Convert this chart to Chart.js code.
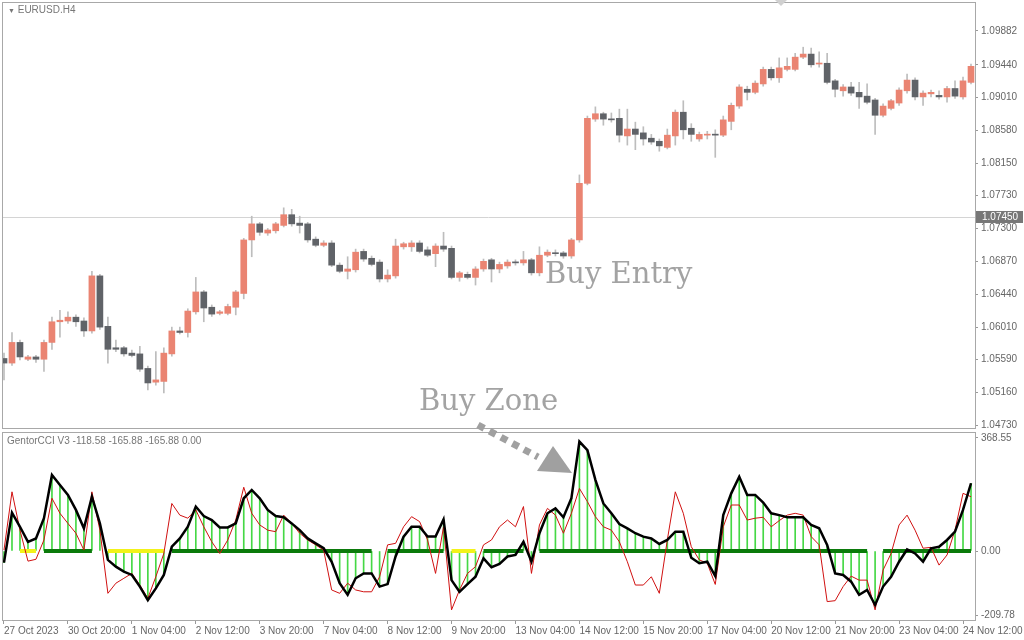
<!DOCTYPE html>
<html>
<head>
<meta charset="utf-8">
<script src="https://cdn.jsdelivr.net/npm/chart.js@4.4.0/dist/chart.umd.min.js"></script>
<style>
  body { margin: 0; background: #fff; width: 1024px; height: 640px; overflow: hidden; position: relative; font-family: "Liberation Sans", sans-serif; }
  canvas { position: absolute; left: 0; }
  #price { top: 0; }
  #cci { top: 430px; }
  .note { position: absolute; font-family: "DejaVu Serif", serif; color: #a3a3a3; font-size: 29px; white-space: nowrap; }
  .small { position: absolute; font-size: 10px; color: #777; white-space: nowrap; }
  svg { position: absolute; left: 0; top: 0; pointer-events: none; }
</style>
</head>
<body>
<canvas id="price" width="1024" height="430"></canvas>
<canvas id="cci" width="1024" height="210"></canvas>
<div class="small" style="left:8px;top:4px;"><span style="font-size:7px;">&#9660;</span> EURUSD.H4</div>
<div class="small" style="left:7px;top:435px;">GentorCCI V3 -118.58 -165.88 -165.88 0.00</div>
<div class="note" style="left:545px;top:256px;">Buy Entry</div>
<div class="note" style="left:419px;top:383px;">Buy Zone</div>
<svg width="1024" height="640">
  <polygon points="775,0 787,0 781,6" fill="#d0d0d0"/>
  <line x1="478" y1="425" x2="538" y2="457" stroke="#a0a0a0" stroke-width="7" stroke-dasharray="7 6"/>
  <polygon points="553,446 572,473 537,471" fill="#a0a0a0"/>
</svg>
<script>
// EURUSD H4 candles, 27 Oct - 24 Nov 2023
const open = [1.0560,1.0554,1.0581,1.0559,1.0562,1.0559,1.0581,1.0608,1.0609,1.0614,
  1.0609,1.0596,1.0668,1.0602,1.0574,1.0574,1.0567,1.0566,1.0547,1.0529,
  1.0530,1.0566,1.0596,1.0594,1.0621,1.0647,1.0627,1.0619,1.0619,1.0627,
  1.0645,1.0715,1.0736,1.0724,1.0727,1.0734,1.0748,1.0737,1.0736,1.0716,
  1.0708,1.0711,1.0682,1.0674,1.0676,1.0700,1.0691,1.0686,1.0664,1.0668,
  1.0706,1.0706,1.0711,1.0702,1.0697,1.0707,1.0704,1.0666,1.0670,1.0666,
  1.0677,1.0689,1.0677,1.0681,1.0686,1.0685,1.0689,1.0672,1.0695,1.0698,
  1.0698,1.0694,1.0715,1.0789,1.0873,1.0880,1.0873,1.0874,1.0851,1.0860,
  1.0855,1.0848,1.0844,1.0836,1.0851,1.0882,1.0861,1.0847,1.0852,1.0853,
  1.0852,1.0870,1.0890,1.0912,1.0908,1.0919,1.0938,1.0927,1.0938,1.0938,
  1.0954,1.0958,1.0945,1.0946,1.0923,1.0910,1.0915,1.0908,1.0903,1.0898,
  1.0878,1.0887,1.0894,1.0910,1.0924,1.0902,1.0906,1.0904,1.0902,1.0913,
  1.0902,1.0921];
const high = [1.0567,1.0594,1.0584,1.0564,1.0564,1.0584,1.0614,1.0623,1.0621,1.0617,
  1.0613,1.0674,1.0670,1.0614,1.0584,1.0576,1.0571,1.0576,1.0550,1.0569,
  1.0574,1.0601,1.0601,1.0625,1.0666,1.0649,1.0630,1.0623,1.0631,1.0649,
  1.0717,1.0746,1.0738,1.0730,1.0738,1.0757,1.0755,1.0746,1.0738,1.0719,
  1.0714,1.0714,1.0685,1.0693,1.0703,1.0703,1.0694,1.0689,1.0676,1.0716,
  1.0712,1.0714,1.0714,1.0706,1.0710,1.0725,1.0707,1.0674,1.0673,1.0680,
  1.0690,1.0691,1.0686,1.0689,1.0689,1.0700,1.0691,1.0706,1.0702,1.0702,
  1.0700,1.0717,1.0800,1.0877,1.0889,1.0882,1.0881,1.0886,1.0886,1.0869,
  1.0863,1.0853,1.0847,1.0860,1.0885,1.0897,1.0867,1.0856,1.0857,1.0859,
  1.0877,1.0894,1.0918,1.0916,1.0923,1.0941,1.0941,1.0953,1.0953,1.0959,
  1.0967,1.0966,1.0961,1.0959,1.0925,1.0918,1.0921,1.0921,1.0919,1.0900,
  1.0893,1.0899,1.0914,1.0932,1.0927,1.0910,1.0911,1.0910,1.0916,1.0923,
  1.0928,1.0945];
const low = [1.0532,1.0551,1.0558,1.0557,1.0555,1.0543,1.0572,1.0588,1.0606,1.0602,
  1.0589,1.0593,1.0598,1.0554,1.0569,1.0563,1.0562,1.0543,1.0519,1.0525,
  1.0515,1.0563,1.0592,1.0588,1.0618,1.0608,1.0615,1.0617,1.0617,1.0617,
  1.0638,1.0693,1.0721,1.0721,1.0724,1.0732,1.0733,1.0724,1.0712,1.0706,
  1.0706,1.0680,1.0672,1.0664,1.0673,1.0687,1.0681,1.0660,1.0660,1.0665,
  1.0703,1.0700,1.0698,1.0693,1.0680,1.0700,1.0664,1.0661,1.0664,1.0656,
  1.0674,1.0660,1.0672,1.0678,1.0682,1.0682,1.0669,1.0668,1.0693,1.0694,
  1.0691,1.0691,1.0712,1.0787,1.0870,1.0865,1.0869,1.0843,1.0839,1.0833,
  1.0839,1.0840,1.0831,1.0834,1.0839,1.0847,1.0844,1.0844,1.0847,1.0823,
  1.0850,1.0859,1.0887,1.0898,1.0906,1.0916,1.0924,1.0921,1.0936,1.0936,
  1.0952,1.0941,1.0941,1.0919,1.0902,1.0903,1.0904,1.0887,1.0893,1.0853,
  1.0876,1.0885,1.0891,1.0907,1.0898,1.0891,1.0902,1.0899,1.0895,1.0900,
  1.0899,1.0919];
const close = [1.0554,1.0581,1.0562,1.0562,1.0559,1.0581,1.0608,1.0610,1.0614,1.0608,
  1.0596,1.0668,1.0601,1.0572,1.0572,1.0566,1.0564,1.0546,1.0528,1.0532,
  1.0567,1.0596,1.0594,1.0622,1.0647,1.0626,1.0618,1.0621,1.0628,1.0647,
  1.0715,1.0736,1.0725,1.0728,1.0736,1.0748,1.0736,1.0734,1.0715,1.0708,
  1.0711,1.0682,1.0674,1.0677,1.0699,1.0690,1.0683,1.0664,1.0669,1.0707,
  1.0710,1.0711,1.0700,1.0695,1.0707,1.0703,1.0666,1.0672,1.0666,1.0677,
  1.0687,1.0677,1.0683,1.0686,1.0685,1.0689,1.0672,1.0695,1.0699,1.0697,
  1.0694,1.0715,1.0789,1.0874,1.0880,1.0873,1.0872,1.0852,1.0860,1.0853,
  1.0847,1.0843,1.0838,1.0852,1.0882,1.0859,1.0853,1.0853,1.0853,1.0852,
  1.0872,1.0891,1.0915,1.0908,1.0920,1.0938,1.0927,1.0940,1.0942,1.0954,
  1.0958,1.0944,1.0946,1.0921,1.0912,1.0915,1.0907,1.0902,1.0895,1.0878,
  1.0890,1.0897,1.0911,1.0924,1.0902,1.0907,1.0908,1.0902,1.0913,1.0903,
  1.0923,1.0942];

// GentorCCI: slow (black line + histogram) and fast (red line)
const cciSlow = [-38,125,79,30,41,107,248,215,183,134,
  74,177,90,-29,-51,-67,-78,-116,-160,-122,
  -78,14,41,79,145,114,101,77,77,90,
  172,199,172,134,114,110,90,68,41,25,
  9,-35,-105,-143,-89,-73,-73,-116,-108,-18,
  47,79,79,47,47,103,-95,-133,-108,-84,
  -24,-53,-42,-18,-13,30,-35,58,123,139,
  110,172,357,329,232,155,123,88,74,58,
  47,41,23,36,63,63,-22,-40,-35,-82,
  117,188,242,183,183,158,123,117,110,110,
  110,85,74,20,-73,-78,-100,-143,-127,-176,
  -116,-84,-35,5,-8,-35,9,14,36,63,
  134,221];
const cciFast = [3,193,68,-33,-27,36,172,123,90,58,
  3,193,68,-138,-105,-89,-73,-111,-154,-84,
  -8,155,117,107,134,79,30,-8,36,101,
  208,123,85,68,63,117,90,58,36,20,
  3,-127,-138,-105,-127,-133,-133,-84,20,25,
  79,112,96,36,-73,79,-192,-127,-73,-51,
  20,36,79,101,79,145,-73,85,139,117,
  58,123,204,161,112,79,68,30,-35,-111,
  -111,-84,-138,36,193,123,14,-29,-40,-109,
  79,150,150,101,107,110,79,99,117,123,
  117,47,20,-165,-162,-116,-82,-95,-95,-192,
  -62,-8,85,117,68,9,12,-46,-13,68,
  188,177];
// zero-line state runs: g = green, y = yellow, - = none
const zoneRuns = [['-',2],['y',3],['g',7],['-',1],['y',8],['g',26],['-',1],['g',8],['y',4],['g',6],['-',1],['g',42],['-',1],['g',12]];

const timeLabels = ['27 Oct 2023','30 Oct 20:00','1 Nov 04:00','2 Nov 12:00','3 Nov 20:00','7 Nov 04:00',
  '8 Nov 12:00','9 Nov 20:00','13 Nov 04:00','14 Nov 12:00','15 Nov 20:00','17 Nov 04:00',
  '20 Nov 12:00','21 Nov 20:00','23 Nov 04:00','24 Nov 12:00'];
const priceTicks = [1.09882,1.09440,1.09010,1.08580,1.08150,1.07730,1.07300,1.06870,1.06440,1.06010,1.05590,1.05160,1.04730];
const cciTicks = [368.55, 0, -209.78];
const lastPrice = 1.07450;

const zone = zoneRuns.flatMap(([z, n]) => Array(n).fill(z));
const idx = open.map((_, i) => i);
const BULL = '#ea8472', BEAR = '#606368';
const tickFont = { family: 'Liberation Sans', size: 10 };

const noPad = s => { s.paddingTop = 0; s.paddingBottom = 0; s.paddingLeft = 0; s.paddingRight = 0; };

const frame = {
  id: 'frame',
  afterDraw(chart) {
    const { ctx, chartArea: a } = chart;
    ctx.save();
    ctx.strokeStyle = '#a8a8a8';
    ctx.lineWidth = 1;
    ctx.strokeRect(a.left + 0.5, a.top + 0.5, a.right - a.left, a.bottom - a.top);
    ctx.restore();
  }
};

const priceLine = {
  id: 'priceLine',
  beforeDatasetsDraw(chart) {
    const { ctx, chartArea: a, scales: { y } } = chart;
    const py = Math.round(y.getPixelForValue(lastPrice)) + 0.5;
    ctx.save();
    ctx.strokeStyle = '#d4d4d4';
    ctx.beginPath(); ctx.moveTo(a.left, py); ctx.lineTo(a.right, py); ctx.stroke();
    ctx.restore();
  },
  afterDraw(chart) {
    const { ctx, chartArea: a, scales: { y } } = chart;
    const py = y.getPixelForValue(lastPrice);
    ctx.save();
    ctx.fillStyle = '#777';
    ctx.fillRect(a.right + 1, py - 6, 47, 12);
    ctx.fillStyle = '#fff';
    ctx.font = '10px Liberation Sans';
    ctx.textBaseline = 'middle';
    ctx.fillText(lastPrice.toFixed(5), a.right + 7, py + 0.5);
    ctx.restore();
  }
};

const xScale = (show) => ({
  type: 'linear', min: -0.25, max: 121.5, display: show, offset: false,
  afterBuildTicks: s => { s.ticks = timeLabels.map((_, k) => ({ value: k * 8 })); },
  afterFit: s => { s.height = show ? 20 : 0; noPad(s); },
  grid: { drawOnChartArea: false, tickLength: 4, color: '#999', offset: false },
  border: { display: false },
  ticks: { align: 'start', maxRotation: 0, autoSkip: false, padding: 1, color: '#666', font: tickFont,
    callback: v => timeLabels[v / 8] }
});

const yScale = (min, max, ticks, digits) => ({
  position: 'right', min, max,
  afterBuildTicks: s => { s.ticks = ticks.map(v => ({ value: v })); },
  afterFit: s => { s.width = 49; noPad(s); },
  grid: { drawOnChartArea: false, tickLength: 3, color: '#999' },
  border: { display: false },
  ticks: { color: '#666', font: tickFont, padding: 3, callback: v => v.toFixed(digits) }
});

new Chart(document.getElementById('price'), {
  type: 'bar',
  data: {
    datasets: [
      { data: idx.map(i => ({ x: i, y: [low[i], high[i]] })), backgroundColor: '#bdbdbd', barThickness: 1, order: 2 },
      { data: idx.map(i => ({ x: i, y: [open[i], close[i]] })), minBarLength: 1, barThickness: 6, order: 1,
        backgroundColor: idx.map(i => close[i] >= open[i] ? BULL : BEAR) }
    ]
  },
  options: {
    responsive: false, animation: false,
    layout: { padding: { left: 2, top: 2, bottom: 2, right: 0 } },
    datasets: { bar: { grouped: false } },
    plugins: { legend: { display: false }, tooltip: { enabled: false } },
    scales: { x: xScale(false), y: yScale(1.04691, 1.10261, priceTicks, 5) }
  },
  plugins: [priceLine, frame]
});

new Chart(document.getElementById('cci'), {
  type: 'bar',
  data: {
    datasets: [
      { type: 'bar', data: idx.map(i => ({ x: i, y: cciSlow[i] })), backgroundColor: '#45d845', barThickness: 1, order: 4 },
      { type: 'line', data: idx.map(i => ({ x: i, y: zone[i] === '-' ? null : 0 })), borderWidth: 4, pointRadius: 0, spanGaps: false, order: 3,
        borderColor: '#0b7a0b',
        segment: { borderColor: c => {
          const a = zone[c.p0DataIndex], b = zone[c.p1DataIndex];
          if (a !== b) return 'rgba(0,0,0,0)';
          return a === 'y' ? '#f2f21a' : '#0b7a0b';
        } } },
      { type: 'line', data: idx.map(i => ({ x: i, y: cciFast[i] })), borderColor: '#d01010', borderWidth: 1, pointRadius: 0, order: 2 },
      { type: 'line', data: idx.map(i => ({ x: i, y: cciSlow[i] })), borderColor: '#000', borderWidth: 2.5, pointRadius: 0, order: 1 }
    ]
  },
  options: {
    responsive: false, animation: false,
    layout: { padding: { left: 2, top: 2, bottom: 0, right: 0 } },
    plugins: { legend: { display: false }, tooltip: { enabled: false } },
    scales: { x: xScale(true), y: yScale(-225, 388.1, cciTicks, 2) }
  },
  plugins: [frame]
});
</script>
</body>
</html>
